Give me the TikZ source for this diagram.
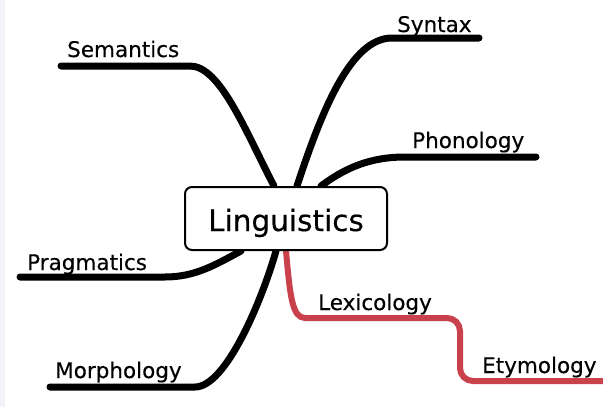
\documentclass[tikz,border=0pt]{standalone}
\usepackage{fontspec}
\setmainfont{DejaVu Sans}[FakeBold=0.3,AutoFakeBold=0.3]
\newfontfamily\labelfont{DejaVu Sans}[FakeBold=0.3]
\usetikzlibrary{calc,backgrounds}
\definecolor{branchred}{RGB}{201,65,75}
\definecolor{edgestrip}{RGB}{243,244,250}
\tikzset{
  branch/.style={line width=7pt,line cap=round,line join=round,black},
  subbranch/.style={line width=6pt,line cap=round,line join=round,branchred},
  centralbox/.style={draw=black,line width=2pt,fill=white,rounded corners=7pt,
    minimum width=202pt,minimum height=63pt,inner sep=0pt,
    text height=25pt,text depth=0pt,font=\bfseries\fontsize{29.5}{30}\selectfont},
  lbl/.style={anchor=base west,inner sep=0pt,font=\bfseries\fontsize{21.5}{22}\selectfont},
}
\begin{document}
\begin{tikzpicture}[x=1pt,y=-1pt]
\useasboundingbox (0,0) rectangle (603,407);
\node[centralbox] (ling) at (286,218.5) {Linguistics};
% labels
\node[lbl] (sem) at (67,57) {Semantics};
\node[lbl] (syn) at (397,32) {Syntax};
\node[lbl] (pho) at (412,148) {Phonology};
\node[lbl] (pra) at (27,270) {Pragmatics};
\node[lbl] (mor) at (55,378) {Morphology};
\node[lbl] (lex) at (318,310) {Lexicology};
\node[lbl] (ety) at (482,373) {Etymology};
% free ends
\coordinate (semE) at (61,66);
\coordinate (synE) at (479,38);
\coordinate (phoE) at (536,157);
\coordinate (praE) at (20,277);
\coordinate (morE) at (50,387);
\coordinate (etyE) at (612,381);
\coordinate (lexC) at (460,318);
\coordinate (etyC) at (460,381);
\begin{pgfonlayer}{background}
\fill[white] (0,0) rectangle (603,407);
\fill[edgestrip] (0,0) rectangle (5,407);
% roots on the box border
\coordinate (semR) at ($(ling.north west)+(90,0)$);
\coordinate (synR) at ($(ling.north west)+(113,0)$);
\coordinate (phoR) at ($(ling.north west)+(137,0)$);
\coordinate (praR) at ($(ling.south west)+(57,0)$);
\coordinate (morR) at ($(ling.south west)+(92,0)$);
\coordinate (lexR) at ($(ling.south west)+(102,0)$);
\draw[branch] (semR) .. controls (245,130) and (220,66) .. (190,66) -- (semE);
\draw[branch] (synR) .. controls (322,110) and (351,38) .. (392,38) -- (synE);
\draw[branch] (phoR) .. controls (345,168) and (370,157) .. (405,157) -- (phoE);
\draw[branch] (praR) .. controls (215,265) and (195,277) .. (165,277) -- (praE);
\draw[branch] (morR) .. controls (262,300) and (226,387) .. (195,387) -- (morE);
\draw[subbranch,rounded corners=13pt] (lexR) .. controls (290,295) and (292,318) .. (318,318)
   -- (lexC) -- (etyC) -- (etyE);
\end{pgfonlayer}
\end{tikzpicture}
\end{document}
